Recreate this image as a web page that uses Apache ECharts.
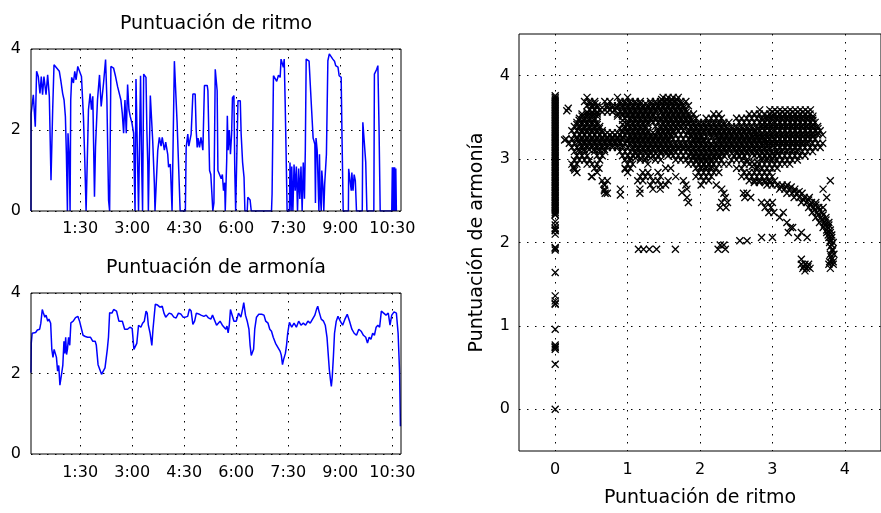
<!DOCTYPE html>
<html>
<head>
<meta charset="utf-8">
<script src="https://cdn.jsdelivr.net/npm/echarts@6/dist/echarts.min.js"></script>
<style>
html,body{margin:0;padding:0;background:#fff;}
#chart{width:881px;height:513px;}
</style>
</head>
<body>
<div id="chart"></div>
<script>
// Tick positions (seconds) for the time axes and score ticks for the scatter
const timeTicks = [90, 180, 270, 360, 450, 540, 630];
const scoreTicks = [0, 1, 2, 3, 4];

// Rhythm score over time: [seconds, score]
const rhythm = [
[5,0],[5.2,2.4],[9,2.87],[12.4,2.08],[14.7,3.45],[17.6,3.32],[20.5,2.9],[22.8,3.32],[25,2.87],[27.4,3.32],[31,2.87],[33.8,3.36],[36.7,2.83],[39.6,0.76],[42.5,2.5],[44.8,3.61],[49.4,3.53],[54,3.45],[56.4,3.24],[59.8,2.9],[62.2,2.74],[64.5,2.33],[66.2,1.42],[68,0],[69,1.92],[71,1.34],[72.6,0],[73.7,2.74],[75.4,3.3],[78.4,3.16],[80.7,3.45],[83,3.24],[85.9,3.57],[88.8,3.61],[92.3,3.32],[95.7,2.33],[98,1.26],[100.3,0],[102.7,0],[104.4,2.5],[107.3,2.9],[109.6,2.5],[111.9,2.83],[114.8,0.35],[116.6,1.59],[120,2.74],[123.5,3.36],[126.4,2.58],[130.5,3.16],[134,3.74],[136.3,2.74],[139.2,0.26],[141,0],[143.2,3.57],[147.8,3.53],[151.3,3.32],[154.8,3.07],[158.2,3.03],[160.5,2.74],[162.9,2.41],[165.2,1.92],[167.5,2.74],[169.8,1.92],[172.1,3.12],[174.4,2.5],[176.7,2.33],[179.6,2.17],[182.5,1.92],[184,0.67],[185,0],
[186.6,3.26],[189.4,3.3],[191,0],[193,0],[194.5,3.34],[196.4,1.16],[198,0],[199.9,3.38],[203.9,3.3],[205.6,1.9],[207,1.16],[208,0],[210,0],[211.4,2.85],[213.8,2.85],[215.5,1.74],[218.4,0.67],[219.5,0],[222.5,0],[224.2,1.49],[227,1.82],[230,1.6],[232,1.82],[235.7,1.5],[238,1.7],[241.5,1.4],[243,1.08],[246,1.16],[249,0],[251,0],[253,3.7],[256,3.67],[257.7,2.19],[260,1.24],[263,0],[272,0],[273.4,1.57],[276.2,1.9],[278,1.6],[282,1.9],[285,2.89],[289,2.89],[290.7,2.0],[292.5,1.57],[294,1.8],[296.5,1.57],[299,1.82],[302.3,1.5],[305,3.1],[309.8,3.1],[311,2.97],[313.9,1.0],[316,0.9],[318,0.4],[319.5,0],[321.4,0.2],[323.7,3.5],[325.4,3.5],[327,2.97],[328.3,1.0],[331.2,1.0],[334,0.8],[336,0.9],[338,0.5],[340,0.7],
[341,0],[342.5,0],[343.5,1.24],[344.6,2.35],[346,1.5],[348,2.0],[350,1.4],[352,1.9],[353.5,2.8],[356,2.85],[357.5,1.0],[359,0],[362,0],[363,2.72],[367,2.72],[368.5,1.9],[371,1.2],[373.5,0.83],[375,0],[379,0],[380,0.34],[382,0.34],[384,0.27],[386,0],[421,0],[422,0.42],[424.4,3.34],[427,3.3],[430,3.2],[433,3.35],[436,3.3],[437.5,3.75],[440,3.75],[441.5,3.55],[443,3.75],[444.7,2.64],[446.4,1.32],[448,0],[452,0],[453,1.2],[455,0],[456,1.1],[458,0],[460,1.15],[462,0.5],[464,1.1],[466,0],[468,1.05],[470,0.3],[472,1.1],[474,0],[476,1.2],[478,0.3],[479.5,1.5],[481,3.75],[486,3.7],[488,3.14],[490.5,2.47],[493,1.8],[496,1.65],[497,0.2],[498,1.8],[500,1.5],[502,0.5],[503,0],[504,1.4],[505,0.5],[507,0],[508,1.0],[510,0.6],[511.5,0],[513,0.67],[516,1.4],
[518.5,3.71],[521,3.88],[524,3.85],[527,3.75],[530,3.7],[532,3.59],[536,3.55],[538,3.34],[541.5,3.3],[543,1.8],[545,0],[554,0],[554.5,1.04],[557,1.0],[559,0.5],[560,0.95],[562,0.5],[564,0.9],[566,0.75],[568,0],[578,0],[579,2.19],[582,2.19],[584,1.2],[586,0],[598,0],[599,3.38],[603,3.5],[605,3.59],[607,2.06],[609,0],[629,0],[630,1.08],[631,0],[632,1.08],[633,0],[634,1.08],[635,0],[636,1.05],[637,0]
];

// Harmony score over time: [seconds, score]
const harmony = [
[5,2.02],[5.5,2.76],[7,3.0],[10,3.04],[13,3.02],[16,3.08],[20,3.1],[22,3.25],[24.5,3.59],[26,3.52],[29,3.4],[31,3.45],[34,3.3],[36,3.35],[39,3.25],[41,2.6],[43,2.4],[45,2.6],[47,2.64],[49,2.4],[51,2.06],[53,2.2],[55,1.71],[56.5,1.68],[58,2.0],[60,2.2],[62,2.8],[63.5,2.5],[65,2.9],[66.5,2.47],[68,2.6],[70,2.9],[72,2.7],[74,3.26],[78,3.3],[82,3.39],[86,3.42],[89,3.3],[92,3.3],[95,2.95],[99,2.92],[103,2.9],[108,2.9],[112,2.8],[116,2.8],[118,2.7],[121,2.22],[124,2.25],[127,1.98],[130,1.95],[133,2.14],[135,2.1],[137,2.6],[139,2.9],[141,3.51],[145,3.5],[148,3.59],[153,3.55],[157,3.3],[163,3.3],[167,3.1],[172,3.1],[176,3.15],[180,3.12],[183,2.6],[185,2.62],[188,2.75],[191,3.2],[195,3.15],[198,3.25],[201,3.3],[204,3.55],[206,3.5],[208,3.2],[211,3.0],[214,2.7],[216,3.1],[220,3.72],[224,3.7],[228,3.65],[232,3.67],[235,3.5],[238,3.4],[241,3.42],[244,3.5],[248,3.48],[252,3.4],[256,3.38],[260,3.5],[264,3.48],[268,3.4],[272,3.4],[276,3.42],[279,3.6],[282,3.55],[285,3.22],[288,3.3],[291,3.5],[295,3.48],[299,3.45],[304,3.42],[308,3.45],[312,3.38],[316,3.35],[319,3.45],[322,3.42],[326,3.2],[329,3.25],[332,3.3],[336,3.2],[339,3.15],[342,3.1],[344,3.18],[346,3.01],[348,3.2],[350,3.59],[353,3.55],[356,3.3],[360,3.3],[364,3.5],[368,3.4],[371,3.6],[373,3.76],[376,3.45],[379,3.3],[382,3.1],[384,2.7],[386,2.45],[388,2.43],[390,2.6],[392,3.1],[395,3.4],[399,3.47],[404,3.47],[408,3.45],[411,3.3],[415,3.25],[418,3.1],[421,3.05],[424,2.9],[428,2.75],[432,2.65],[436,2.55],[438,2.45],[440,2.22],[442,2.35],[445,2.5],[447,2.7],[449,3.0],[452,3.27],[456,3.15],[460,3.25],[464,3.15],[468,3.3],[472,3.2],[476,3.25],[480,3.2],[484,3.3],[488,3.25],[492,3.35],[496,3.45],[499,3.6],[501,3.67],[503,3.55],[507,3.35],[511,3.3],[514,3.2],[517,2.9],[519,2.5],[521,2.1],[523,1.84],[524.5,1.68],[526,1.9],[528,2.4],[530,3.0],[533,3.3],[536,3.42],[540,3.3],[544,3.2],[548,3.35],[552,3.47],[556,3.3],[560,3.1],[564,3.0],[568,2.95],[572,3.1],[576,3.05],[580,2.95],[584,2.9],[587,2.76],[590,2.9],[593,2.85],[596,3.0],[599,2.95],[602,3.15],[605,3.2],[608,3.15],[611,3.55],[615,3.5],[619,3.45],[623,3.5],[626,3.2],[629,3.45],[633,3.53],[637,3.5],[640,3.0],[642.5,2.06],[644,0.69]
];

// Harmony values recorded while the rhythm score is zero
const zeroRhythmHarmony = [3.76,3.74,3.72,3.70,3.68,3.66,3.64,3.62,3.60,3.58,3.56,3.54,3.52,3.50,3.48,3.46,3.44,3.42,3.40,3.38,3.36,3.34,3.32,3.30,3.28,3.26,3.24,3.22,3.20,3.18,3.16,3.14,3.12,3.10,3.08,3.06,3.04,3.02,3.00,2.98,2.96,2.94,2.92,2.90,2.88,2.86,2.84,2.82,2.80,2.78,2.76,2.74,2.72,2.70,2.68,2.66,2.64,2.62,2.60,2.58,2.56,2.54,2.52,2.50,2.48,2.46,2.44,2.42,2.40,2.38,2.36,2.34,2.33,2.25,2.21,2.17,2.15,2.14,2.10,1.94,1.93,1.91,1.64,1.36,1.30,1.27,1.26,0.96,0.77,0.75,0.74,0.72,0.54,0.0];

// Rhythm/harmony pairs grouped by harmony level: [harmony, rhythm, rhythm, ...]
const pairRows = [
[3.74, 0.44,0.86,1.00,1.49,1.56,1.63,1.70],
[3.715, 1.47,1.54,1.61,1.68],
[3.69, 0.405,0.475,0.545,0.685,0.755,0.895,0.965,1.035,1.105,1.175,1.315,1.385,1.455,1.525,1.595,1.665,1.735,1.805],
[3.665, 0.48,0.55,0.90,0.97,1.04,1.11,1.18,1.25,1.32,1.39,1.46,1.53,1.60,1.67,1.74],
[3.64, 0.44,0.51,0.58,0.72,0.79,0.86,0.93,1.00,1.07,1.14,1.21,1.28,1.35,1.42,1.49,1.56,1.63,1.70,1.77,1.84],
[3.615, 0.51,0.58,0.65,0.72,0.79,0.86,0.93,1.00,1.07,1.14,1.21,1.28,1.35,1.42,1.49,1.56,1.63,1.70,1.77],
[3.59, 0.475,0.545,0.615,0.755,0.825,0.965,1.035,1.105,1.175,1.245,1.315,1.385,1.455,1.525,1.595,1.665,1.735,1.805,2.825,2.965,3.035,3.105,3.175,3.245,3.315,3.385,3.455,3.525],
[3.565, 0.44,0.51,0.58,0.65,0.72,0.79,0.90,0.97,1.04,1.11,1.18,1.25,1.32,1.39,1.46,1.53,1.60,1.67,1.74,1.81,3.00,3.07,3.14,3.21,3.28,3.35,3.42,3.49],
[3.54, 0.37,0.44,0.51,0.58,0.86,0.93,1.00,1.07,1.14,1.21,1.28,1.35,1.49,1.56,1.63,1.70,1.77,1.84,1.91,2.19,2.26,2.68,2.75,2.82,2.89,2.96,3.03,3.10,3.17,3.24,3.31,3.38,3.45,3.52],
[3.515, 0.37,0.44,0.51,0.58,0.86,0.93,1.00,1.07,1.14,1.21,1.28,1.35,1.42,1.49,1.56,1.63,1.70,1.77,1.84,2.93,3.00,3.07,3.14,3.21,3.28,3.35,3.42,3.49,3.56],
[3.49, 0.335,0.405,0.475,0.545,0.965,1.035,1.105,1.175,1.245,1.315,1.385,1.455,1.525,1.595,1.665,1.735,1.805,1.875,1.945,2.085,2.155,2.225,2.295,2.505,2.575,2.645,2.715,2.785,2.855,2.925,2.995,3.065,3.135,3.205,3.275,3.345,3.415,3.485,3.555],
[3.465, 0.33,0.40,0.47,0.54,0.93,1.04,1.11,1.18,1.25,1.32,1.39,1.46,1.53,1.60,1.67,1.74,1.81,1.88,2.86,2.93,3.00,3.07,3.14,3.21,3.28,3.35,3.42,3.49,3.56],
[3.44, 0.30,0.37,0.44,0.51,0.58,1.00,1.07,1.14,1.21,1.28,1.35,1.42,1.49,1.56,1.63,1.70,1.77,1.84,1.91,1.98,2.05,2.12,2.19,2.26,2.33,2.40,2.54,2.61,2.68,2.75,2.82,2.89,2.96,3.03,3.10,3.17,3.24,3.31,3.38,3.45,3.52,3.59],
[3.415, 0.30,0.37,0.44,0.51,0.58,0.93,1.00,1.07,1.14,1.21,1.28,1.49,1.56,1.63,1.70,1.77,1.84,1.91,1.98,2.05,2.12,2.19,2.26,2.33,2.86,2.93,3.00,3.07,3.14,3.21,3.28,3.35,3.42,3.49,3.56],
[3.39, 0.265,0.335,0.405,0.475,0.545,0.615,0.965,1.035,1.105,1.175,1.245,1.385,1.455,1.525,1.595,1.665,1.735,1.805,1.875,1.945,2.015,2.085,2.155,2.225,2.295,2.365,2.435,2.505,2.575,2.645,2.715,2.785,2.855,2.925,2.995,3.065,3.135,3.205,3.275,3.345,3.415,3.485,3.555,3.625],
[3.365, 0.33,0.40,0.47,0.54,0.61,0.89,0.96,1.04,1.11,1.18,1.25,1.46,1.53,1.60,1.67,1.74,1.88,1.95,2.02,2.09,2.16,2.23,2.30,2.37,2.44,2.51,2.58,2.65,2.72,2.79,2.86,2.93,3.00,3.07,3.14,3.21,3.28,3.35,3.42,3.49,3.56,3.63],
[3.34, 0.23,0.30,0.37,0.44,0.51,0.58,0.65,0.93,1.00,1.07,1.14,1.21,1.28,1.42,1.49,1.56,1.63,1.70,1.77,1.84,1.91,1.98,2.05,2.12,2.19,2.26,2.33,2.40,2.47,2.54,2.61,2.68,2.75,2.82,2.89,2.96,3.03,3.10,3.17,3.24,3.31,3.38,3.45,3.52,3.59,3.66],
[3.315, 0.37,0.44,0.51,0.58,0.65,0.72,0.79,0.86,0.93,1.00,1.07,1.14,1.21,1.28,1.35,1.42,1.49,1.56,1.63,1.84,1.91,1.98,2.05,2.12,2.19,2.26,2.33,2.40,2.47,2.54,2.61,2.68,2.75,2.79,2.86,2.93,3.00,3.07,3.14,3.21,3.28,3.35,3.42,3.49,3.56,3.63],
[3.29, 0.265,0.335,0.405,0.475,0.545,0.615,0.685,0.755,0.825,0.895,0.965,1.035,1.105,1.175,1.245,1.315,1.385,1.455,1.525,1.595,1.665,1.735,1.805,1.875,1.945,2.015,2.155,2.225,2.295,2.365,2.435,2.505,2.575,2.645,2.715,2.785,2.855,2.925,2.995,3.065,3.135,3.205,3.275,3.345,3.415,3.485,3.555,3.625,3.695],
[3.265, 0.30,0.37,0.44,0.51,0.58,0.65,0.72,0.79,0.86,0.93,1.04,1.11,1.18,1.25,1.32,1.39,1.46,1.53,1.60,1.88,1.95,2.02,2.09,2.16,2.23,2.30,2.37,2.44,2.51,2.58,2.65,2.72,2.79,2.86,2.93,3.00,3.07,3.14,3.21,3.28,3.35,3.42,3.49,3.56],
[3.24, 0.15,0.23,0.30,0.37,0.44,0.51,0.58,0.65,0.72,0.79,0.86,0.93,1.00,1.07,1.14,1.21,1.28,1.35,1.42,1.49,1.56,1.63,1.70,1.77,1.84,1.91,1.98,2.05,2.26,2.33,2.40,2.47,2.54,2.61,2.68,2.75,2.82,2.89,2.96,3.03,3.10,3.17,3.24,3.31,3.38,3.45,3.52,3.59],
[3.215, 0.33,0.40,0.47,0.54,0.61,0.68,0.75,0.82,0.89,1.00,1.07,1.14,1.21,1.28,1.35,1.42,1.49,1.56,1.91,1.98,2.05,2.12,2.19,2.26,2.33,2.40,2.47,2.54,2.61,2.68,2.75,2.82,2.89,2.93,3.00,3.07,3.14,3.21,3.28,3.35,3.42,3.49],
[3.19, 0.195,0.265,0.335,0.405,0.475,0.545,0.615,0.685,0.755,0.825,0.895,0.965,1.035,1.105,1.175,1.245,1.315,1.385,1.455,1.525,1.595,1.665,1.735,1.805,1.875,1.945,2.015,2.085,2.155,2.225,2.295,2.365,2.435,2.505,2.575,2.645,2.715,2.785,2.855,2.925,2.995,3.065,3.135,3.205,3.275,3.345,3.415,3.485,3.555,3.625,3.695],
[3.165, 0.37,0.44,0.51,0.58,0.65,0.72,0.79,0.86,0.93,1.04,1.11,1.18,1.25,1.32,1.39,1.46,1.53,1.60,1.67,1.74,1.81,1.88,1.95,2.02,2.09,2.16,2.23,2.30,2.37,2.44,2.51,2.58,2.65,2.72,2.79,2.86,2.93,3.00,3.07,3.14,3.21,3.28,3.35,3.42],
[3.14, 0.23,0.30,0.37,0.44,0.51,0.58,0.65,0.72,0.79,0.86,0.93,1.00,1.07,1.14,1.21,1.28,1.35,1.42,1.49,1.56,1.63,1.70,1.77,1.84,1.91,1.98,2.05,2.12,2.19,2.26,2.33,2.40,2.47,2.54,2.61,2.68,2.75,2.82,2.89,2.96,3.03,3.10,3.17,3.24,3.31,3.38,3.45,3.52,3.59,3.66],
[3.115, 0.33,0.40,0.47,0.54,0.61,0.68,1.07,1.14,1.21,1.28,1.35,1.42,1.49,1.56,1.63,1.70,1.77,1.84,1.91,1.98,2.05,2.12,2.19,2.26,2.33,2.40,2.47,2.54,2.61,2.68,2.75,2.82,2.89,2.96,3.07,3.14,3.21,3.28,3.35],
[3.09, 0.265,0.335,0.405,0.545,0.615,0.685,0.895,0.965,1.035,1.105,1.175,1.245,1.315,1.455,1.525,1.595,1.665,1.735,1.805,1.875,1.945,2.015,2.085,2.155,2.225,2.295,2.365,2.505,2.575,2.645,2.715,2.785,2.855,2.925,2.995,3.065,3.135,3.205,3.275,3.345,3.415,3.485,3.555],
[3.065, 1.11,1.18,1.25,1.32,1.39,1.46,1.53,1.60,1.88,1.95,2.02,2.09,2.16,2.23,2.30,2.37,2.44,2.51,2.58,2.65,2.72,2.79,2.86,2.93,3.00,3.07],
[3.04, 0.30,0.37,0.44,0.58,0.65,0.93,1.00,1.07,1.14,1.28,1.35,1.42,1.56,1.63,1.70,1.77,1.84,1.91,1.98,2.05,2.12,2.19,2.26,2.33,2.47,2.54,2.61,2.75,2.82,2.89,2.96,3.03,3.10,3.17,3.24,3.31,3.38,3.45],
[3.015, 1.04,1.11,1.18,1.25,1.32,1.91,1.98,2.05,2.12,2.19,2.26,2.86,2.93,3.00],
[2.99, 0.265,0.335,0.405,0.475,0.615,0.965,1.035,1.175,1.245,1.385,1.455,1.665,1.735,1.805,1.875,1.945,2.015,2.085,2.155,2.225,2.295,2.435,2.505,2.575,2.645,2.855,2.925,2.995,3.065,3.135,3.205,3.275,3.345],
[2.965, 1.95,2.02,2.09,2.16,2.65,2.72,2.79],
[2.94, 0.23,0.30,0.44,0.51,0.58,1.00,1.07,1.28,1.84,1.91,1.98,2.05,2.12,2.19,2.26,2.33,2.40,2.61,2.68,2.75,2.82,2.89,2.96,3.03,3.10,3.17,3.24],
[2.915, 2.02,2.09,2.16,2.72,2.79],
[2.89, 0.265,0.545,0.605,0.965,1.035,1.525,1.595,1.945,2.015,2.085,2.155,2.225,2.505,2.575,2.785,2.855,2.925,2.995,3.065],
[2.84, 0.30,0.58,1.00,1.21,1.28,1.42,1.98,2.05,2.12,2.19,2.26,2.61,2.68,2.75,2.82,2.89,2.96],
[2.79, 0.51,1.175,1.245,1.315,1.455,1.665,1.945,2.015,2.085,2.155,2.575,2.645,2.715,2.785,2.855,2.925,2.995],
[2.74, 0.65,0.72,1.14,1.21,1.35,1.42,1.56,1.77,2.05,2.12,2.68,2.75,2.82,2.89,2.96,3.03,3.80],
[2.72, 2.75,2.82,2.90,2.97],
[2.69, 0.685,1.315,1.455,1.525,1.805,2.015,2.225,2.925,2.995,3.065,3.135,3.205],
[2.665, 3.12,3.19,3.26],
[2.64, 0.68,0.90,1.17,1.35,1.45,1.82,2.30,3.10,3.17,3.24,3.31,3.70],
[2.61, 3.30,3.37],
[2.59, 0.69,0.72,2.33,2.60,2.65,3.20,3.27,3.34,3.41],
[2.54, 1.82,2.35,2.62,2.70,3.30,3.37,3.44,3.51,3.75],
[2.51, 3.43,3.50],
[2.48, 2.30,2.38,2.85,2.93,3.00,3.40,3.47,3.54,3.60],
[2.45, 3.53,3.60],
[2.42, 2.28,2.36,2.90,2.98,3.50,3.57,3.64,3.70],
[2.39, 3.58,3.65],
[2.36, 2.95,3.02,3.15,3.55,3.62,3.69],
[2.33, 3.63,3.70],
[2.30, 3.10,3.60,3.67,3.74],
[2.27, 3.68,3.74],
[2.24, 3.20,3.65,3.72,3.78],
[2.21, 3.72,3.78],
[2.18, 3.25,3.28,3.70,3.77],
[2.15, 3.75,3.80],
[2.12, 3.22,3.40,3.75,3.80],
[2.09, 3.77,3.82],
[2.06, 2.85,3.00,3.35,3.48,3.78,3.82],
[2.02, 2.55,2.65,3.80],
[2.00, 3.79,3.84],
[1.97, 2.28,2.33,3.82],
[1.95, 3.80],
[1.92, 1.15,1.22,1.30,1.40,1.66,2.25,2.35,3.83],
[1.90, 3.83],
[1.86, 3.80,3.85],
[1.83, 3.81],
[1.80, 3.40,3.82],
[1.77, 3.79,3.84],
[1.74, 3.40,3.45,3.50,3.78,3.84],
[1.71, 3.43,3.49],
[1.69, 3.42,3.47,3.52,3.80],
[1.66, 3.45]
];

// Isolated rhythm/harmony pairs near the left of the cloud
const loosePairs = [[0.16,3.58],[0.18,3.61],[0.13,3.23],[0.25,2.9],[0.27,2.87],[0.5,2.79],[0.67,2.7],[0.68,2.62],[0.9,2.57],[1.17,2.59],[0.97,2.88],[1.75,2.6],[1.84,2.48]];

const FONT = 'DejaVu Sans';
const scatterData = zeroRhythmHarmony.map(h => [0, h])
  .concat(pairRows.flatMap(r => r.slice(1).map(x => [x, r[0]])))
  .concat(loosePairs);

function clock(v) {
  const m = Math.floor(v / 60), s = Math.round(v % 60);
  return m + ':' + (s < 10 ? '0' + s : s);
}

const dotted = { color: '#000', width: 1, type: [1.5, 6.5] };
const labelStyle = { fontFamily: FONT, fontSize: 16, color: '#000' };

function timeAxis(gridIndex, margin) {
  return {
    type: 'value', gridIndex, min: 5, max: 645,
    axisLine: { show: false },
    axisTick: { show: false, customValues: timeTicks },
    axisLabel: Object.assign({ customValues: timeTicks, margin, formatter: clock }, labelStyle),
    splitLine: { show: true, lineStyle: dotted }
  };
}
function levelAxis(gridIndex) {
  return {
    type: 'value', gridIndex, min: 0, max: 4, interval: 2,
    axisLine: { show: false },
    axisTick: { show: false },
    axisLabel: Object.assign({ margin: 10 }, labelStyle),
    splitLine: { show: true, lineStyle: dotted }
  };
}

const chart = echarts.init(document.getElementById('chart'), null, { renderer: 'canvas' });
chart.setOption({
  animation: false,
  backgroundColor: '#fff',
  graphic: [
    { type: 'text', x: 216, y: 15, style: { text: 'Puntuación de ritmo', align: 'center', verticalAlign: 'top', fontFamily: FONT, fontSize: 19, fill: '#000' } },
    { type: 'text', x: 216, y: 259, style: { text: 'Puntuación de armonía', align: 'center', verticalAlign: 'top', fontFamily: FONT, fontSize: 19, fill: '#000' } }
  ],
  grid: [
    { left: 31, top: 49, width: 370, height: 162, show: true, z: 5, borderColor: '#000', borderWidth: 1, backgroundColor: 'transparent' },
    { left: 31, top: 293, width: 370, height: 161, show: true, z: 5, borderColor: '#000', borderWidth: 1, backgroundColor: 'transparent' },
    { left: 519, top: 34, width: 372, height: 420, show: true, z: 5, borderColor: '#000', borderWidth: 1, backgroundColor: 'transparent' }
  ],
  xAxis: [
    timeAxis(0, 10),
    timeAxis(1, 11),
    {
      type: 'value', gridIndex: 2, min: -0.5, max: 4.5,
      name: 'Puntuación de ritmo', nameLocation: 'middle', nameGap: 38,
      nameTextStyle: { fontFamily: FONT, fontSize: 19, color: '#000' },
      axisLine: { show: false },
      axisTick: { show: false, customValues: scoreTicks },
      axisLabel: Object.assign({ customValues: scoreTicks, margin: 11 }, labelStyle),
      splitLine: { show: true, lineStyle: dotted }
    }
  ],
  yAxis: [
    levelAxis(0),
    levelAxis(1),
    {
      type: 'value', gridIndex: 2, min: -0.5, max: 4.5,
      name: 'Puntuación de armonía', nameLocation: 'middle', nameGap: 32,
      nameTextStyle: { fontFamily: FONT, fontSize: 19, color: '#000' },
      axisLine: { show: false },
      axisTick: { show: false, customValues: scoreTicks },
      axisLabel: Object.assign({ customValues: scoreTicks, margin: 9 }, labelStyle),
      splitLine: { show: true, lineStyle: dotted }
    }
  ],
  series: [
    { type: 'line', xAxisIndex: 0, yAxisIndex: 0, data: rhythm, showSymbol: false, clip: true,
      lineStyle: { color: '#0000ff', width: 1.5 }, itemStyle: { color: '#0000ff' } },
    { type: 'line', xAxisIndex: 1, yAxisIndex: 1, data: harmony, showSymbol: false, clip: true,
      lineStyle: { color: '#0000ff', width: 1.5 }, itemStyle: { color: '#0000ff' } },
    { type: 'scatter', xAxisIndex: 2, yAxisIndex: 2, data: scatterData, large: false,
      symbol: 'path://M0,0L10,10M10,0L0,10', symbolSize: 7,
      itemStyle: { color: 'rgba(0,0,0,0)', borderColor: '#000', borderWidth: 1.3, opacity: 1 } }
  ]
});
</script>
</body>
</html>
